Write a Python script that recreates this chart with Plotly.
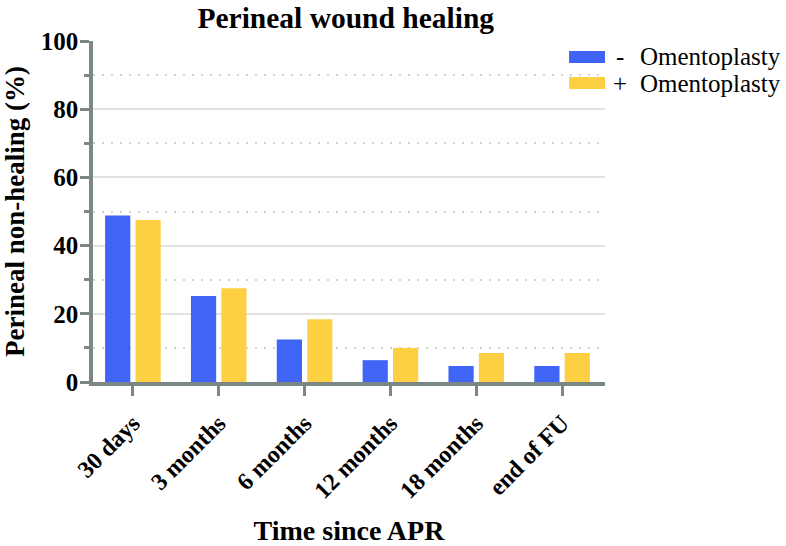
import plotly.graph_objects as go

categories = ["30 days", "3 months", "6 months", "12 months", "18 months", "end of FU"]
no_omento = [48.8, 25.2, 12.5, 6.4, 4.7, 4.7]
with_omento = [47.5, 27.5, 18.4, 10.0, 8.5, 8.5]
series_signs = ["-", "+"]
series_word = "Omentoplasty"
y_ticks = [0, 20, 40, 60, 80, 100]

BLUE = "#4065F6"
YELLOW = "#FDD043"
AXIS = "#7B8787"
SERIF = "Liberation Serif, Times New Roman, serif"

fig = go.Figure()
fig.add_trace(go.Bar(x=categories, y=no_omento, name=f"{series_signs[0]}  {series_word}",
                     marker=dict(color=BLUE, line=dict(width=0)), showlegend=False))
fig.add_trace(go.Bar(x=categories, y=with_omento, name=f"{series_signs[1]}  {series_word}",
                     marker=dict(color=YELLOW, line=dict(width=0)), showlegend=False))

# manual legend (wide swatches like the reference)
legend_rows = [(BLUE, series_signs[0], 0.9355, 0.9707, 1.0195),
               (YELLOW, series_signs[1], 0.8592, 0.8944, 1.0136)]
shapes = []
annotations = []
for color, sign, y0, y1, sx in legend_rows:
    shapes.append(dict(type="rect", xref="paper", yref="paper", x0=0.9298, x1=1.0,
                       y0=y0, y1=y1, fillcolor=color, line=dict(width=0), layer="above"))
    yc = (y0 + y1) / 2
    annotations.append(dict(xref="paper", yref="paper", x=sx, y=yc, xanchor="left", yanchor="middle",
                            text=sign, showarrow=False, borderpad=0,
                            font=dict(size=25, family=SERIF, color="black")))
    annotations.append(dict(xref="paper", yref="paper", x=1.0663, y=yc, xanchor="left", yanchor="middle",
                            text=series_word, showarrow=False, borderpad=0,
                            font=dict(size=25, family=SERIF, color="black")))

fig.update_layout(
    width=786, height=546,
    margin=dict(l=92.5, r=181, t=41, b=164, autoexpand=False),
    paper_bgcolor="white", plot_bgcolor="white",
    barmode="group", bargap=0.292, bargroupgap=0.17,
    font=dict(family=SERIF, color="black"),
    title=dict(text="<b>Perineal wound healing</b>", x=0.4937, xref="paper", xanchor="center",
               y=0.968, yanchor="middle", font=dict(size=29.5, family=SERIF)),
    showlegend=False,
    shapes=shapes,
    annotations=annotations,
    xaxis=dict(
        range=[-0.465, 5.5], automargin=False,
        showline=True, linecolor=AXIS, linewidth=3.5,
        ticks="outside", tickcolor=AXIS, tickwidth=3, ticklen=10,
        tickangle=-45, tickfont=dict(size=24, family=SERIF), ticklabelstandoff=4,
        tickvals=categories, ticktext=[f"<b>{c}</b>" for c in categories],
        showgrid=False,
        title=dict(text="<b>Time since APR</b>", font=dict(size=28, family=SERIF), standoff=28),
    ),
    yaxis=dict(
        range=[0, 100], automargin=False,
        tickvals=y_ticks, ticktext=[f"<b>{v}</b>" for v in y_ticks],
        showline=True, linecolor=AXIS, linewidth=3.5,
        ticks="outside", tickcolor=AXIS, tickwidth=3, ticklen=9,
        tickfont=dict(size=25, family=SERIF), ticklabelstandoff=-3,
        showgrid=True, gridcolor="#E2E2E2", gridwidth=1.5,
        zeroline=False,
        minor=dict(dtick=10, tick0=10, ticks="outside", ticklen=5, tickcolor=AXIS, tickwidth=2.5,
                   showgrid=True, gridcolor="#D3D3D3", griddash="2px,7px", gridwidth=1.5),
        title=dict(text="<b>Perineal non-healing (%)</b>", font=dict(size=27, family=SERIF), standoff=12),
    ),
)

fig.write_html("out.html", config={"displayModeBar": False},
               post_script="document.body.style.margin='0px';")
